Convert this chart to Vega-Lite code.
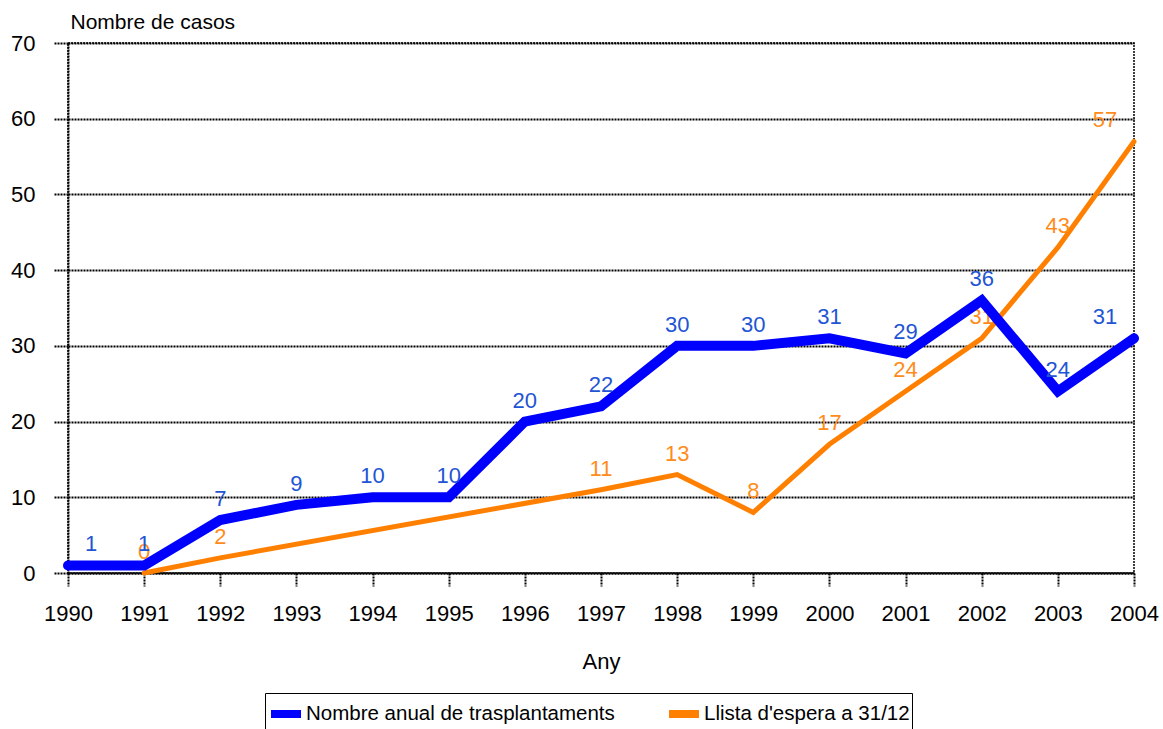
{
  "$schema": "https://vega.github.io/schema/vega-lite/v6.json",
  "width": 1066,
  "height": 530,
  "autosize": "none",
  "padding": {"left": 68, "top": 43, "right": 29, "bottom": 156},
  "background": "white",
  "config": {
    "font": "Liberation Sans, Arial, sans-serif",
    "view": {"stroke": "black", "strokeWidth": 1.5, "strokeDash": [2, 1]},
    "axis": {"labelColor": "#000", "titleColor": "#000", "labelFont": "Liberation Sans, Arial, sans-serif", "titleFont": "Liberation Sans, Arial, sans-serif"}
  },
  "datasets": {
    "casos": [
      {"year": 1991, "value": 0, "serie": "Llista d'espera a 31/12"},
      {"year": 1992, "value": 2, "serie": "Llista d'espera a 31/12"},
      {"year": 1997, "value": 11, "serie": "Llista d'espera a 31/12"},
      {"year": 1998, "value": 13, "serie": "Llista d'espera a 31/12"},
      {"year": 1999, "value": 8, "serie": "Llista d'espera a 31/12"},
      {"year": 2000, "value": 17, "serie": "Llista d'espera a 31/12"},
      {"year": 2001, "value": 24, "serie": "Llista d'espera a 31/12"},
      {"year": 2002, "value": 31, "serie": "Llista d'espera a 31/12"},
      {"year": 2003, "value": 43, "serie": "Llista d'espera a 31/12"},
      {"year": 2004, "value": 57, "serie": "Llista d'espera a 31/12"},
      {"year": 1990, "value": 1, "serie": "Nombre anual de trasplantaments"},
      {"year": 1991, "value": 1, "serie": "Nombre anual de trasplantaments"},
      {"year": 1992, "value": 7, "serie": "Nombre anual de trasplantaments"},
      {"year": 1993, "value": 9, "serie": "Nombre anual de trasplantaments"},
      {"year": 1994, "value": 10, "serie": "Nombre anual de trasplantaments"},
      {"year": 1995, "value": 10, "serie": "Nombre anual de trasplantaments"},
      {"year": 1996, "value": 20, "serie": "Nombre anual de trasplantaments"},
      {"year": 1997, "value": 22, "serie": "Nombre anual de trasplantaments"},
      {"year": 1998, "value": 30, "serie": "Nombre anual de trasplantaments"},
      {"year": 1999, "value": 30, "serie": "Nombre anual de trasplantaments"},
      {"year": 2000, "value": 31, "serie": "Nombre anual de trasplantaments"},
      {"year": 2001, "value": 29, "serie": "Nombre anual de trasplantaments"},
      {"year": 2002, "value": 36, "serie": "Nombre anual de trasplantaments"},
      {"year": 2003, "value": 24, "serie": "Nombre anual de trasplantaments"},
      {"year": 2004, "value": 31, "serie": "Nombre anual de trasplantaments"}
    ]
  },
  "data": {"name": "casos"},
  "encoding": {
    "x": {
      "field": "year", "type": "quantitative",
      "scale": {"domain": [1990, 2004], "nice": false, "zero": false},
      "axis": {
        "title": "Any", "titleFontSize": 22, "titleFontWeight": "normal", "titlePadding": 27,
        "values": [1990,1991,1992,1993,1994,1995,1996,1997,1998,1999,2000,2001,2002,2003,2004],
        "format": "d", "labelFontSize": 22, "labelPadding": 17, "labelFlush": false, "labelOverlap": false,
        "grid": false, "tickSize": 13, "tickColor": "black", "tickDash": [2, 1], "tickWidth": 2,
        "domainColor": "black", "domainDash": [2, 1], "domainWidth": 2
      }
    },
    "y": {
      "field": "value", "type": "quantitative",
      "scale": {"domain": [0, 70], "nice": false},
      "axis": {
        "title": "Nombre de casos", "titleAngle": 0, "titleAlign": "left", "titleBaseline": "middle",
        "titleX": 2, "titleY": -21, "titleFontSize": 21, "titleFontWeight": "normal",
        "values": [0, 10, 20, 30, 40, 50, 60, 70], "labelFontSize": 22, "labelPadding": 18,
        "grid": true, "gridColor": "black", "gridDash": [2, 1], "gridWidth": 2, "gridOpacity": 1,
        "tickSize": 15, "tickColor": "black", "tickDash": [2, 1], "tickWidth": 2,
        "domainColor": "black", "domainDash": [2, 1], "domainWidth": 2
      }
    }
  },
  "layer": [
    {
      "transform": [{"filter": "datum.serie === \"Llista d'espera a 31/12\""}],
      "mark": {"type": "line", "strokeWidth": 5, "strokeCap": "round", "strokeJoin": "miter"},
      "encoding": {
        "color": {
          "field": "serie", "type": "nominal",
          "scale": {"domain": ["Nombre anual de trasplantaments", "Llista d'espera a 31/12"], "range": ["#0000ff", "#ff8000"]},
          "legend": {
            "title": null, "orient": "none", "legendX": 197, "legendY": 650, "direction": "horizontal",
            "symbolType": "stroke", "symbolStrokeWidth": 8, "symbolSize": 900,
            "labelFontSize": 20.5, "labelColor": "#000", "labelFont": "Liberation Sans, Arial, sans-serif", "labelLimit": 400,
            "columnPadding": 38, "symbolOffset": 0, "labelOffset": 1, "padding": 2,
            "strokeColor": "black"
          }
        }
      }
    },
    {
      "transform": [{"filter": "datum.serie === \"Llista d'espera a 31/12\" && datum.year < 2004"}],
      "mark": {"type": "text", "dy": -21, "fontSize": 22, "color": "#ff8c1a", "baseline": "middle"},
      "encoding": {"text": {"field": "value", "type": "quantitative"}}
    },
    {
      "transform": [{"filter": "datum.serie === \"Llista d'espera a 31/12\" && datum.year == 2004"}],
      "mark": {"type": "text", "dy": -21, "dx": -29, "fontSize": 22, "color": "#ff8c1a", "baseline": "middle"},
      "encoding": {"text": {"field": "value", "type": "quantitative"}}
    },
    {
      "transform": [{"filter": "datum.serie === 'Nombre anual de trasplantaments'"}],
      "mark": {"type": "line", "strokeWidth": 10, "strokeCap": "round", "strokeJoin": "miter"},
      "encoding": {"color": {"field": "serie", "type": "nominal"}}
    },
    {
      "transform": [{"filter": "datum.serie === 'Nombre anual de trasplantaments' && datum.year > 1990 && datum.year < 2004"}],
      "mark": {"type": "text", "dy": -21, "fontSize": 22, "color": "#2255d4", "baseline": "middle"},
      "encoding": {"text": {"field": "value", "type": "quantitative"}}
    },
    {
      "transform": [{"filter": "datum.serie === 'Nombre anual de trasplantaments' && datum.year == 1990"}],
      "mark": {"type": "text", "dy": -21, "dx": 23, "fontSize": 22, "color": "#2255d4", "baseline": "middle"},
      "encoding": {"text": {"field": "value", "type": "quantitative"}}
    },
    {
      "transform": [{"filter": "datum.serie === 'Nombre anual de trasplantaments' && datum.year == 2004"}],
      "mark": {"type": "text", "dy": -21, "dx": -29, "fontSize": 22, "color": "#2255d4", "baseline": "middle"},
      "encoding": {"text": {"field": "value", "type": "quantitative"}}
    }
  ]
}
